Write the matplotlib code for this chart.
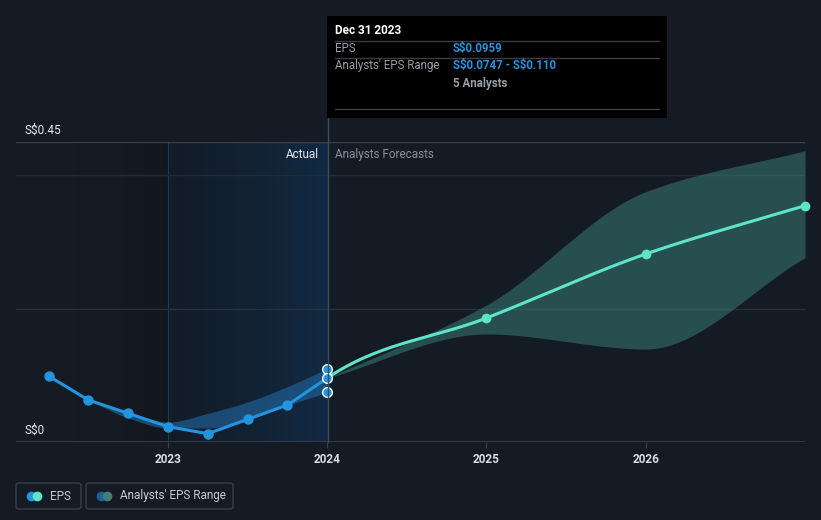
import numpy as np
import matplotlib
matplotlib.use("Agg")
import matplotlib.pyplot as plt
from matplotlib.patches import FancyBboxPatch, Rectangle
from matplotlib.lines import Line2D
from matplotlib.colors import LinearSegmentedColormap

plt.rcParams['font.family'] = ['Roboto', 'DejaVu Sans']

# ---------------- data ----------------
actual_x = [2022.25, 2022.5, 2022.75, 2023.0, 2023.25, 2023.5, 2023.75, 2024.0]
actual_eps = [0.099, 0.063, 0.043, 0.023, 0.0125, 0.034, 0.0555, 0.0959]

past_range_x = [2022.5, 2022.75, 2023.0, 2023.25, 2023.5, 2023.75, 2024.0]
past_range_low = [0.063, 0.036, 0.021, 0.021, 0.034, 0.055, 0.0747]
past_range_high = [0.063, 0.045, 0.030, 0.043, 0.060, 0.083, 0.110]

fc_x = [2024.0, 2025.0, 2026.0, 2027.0]
fc_eps = [0.0959, 0.186, 0.282, 0.3545]
fc_low = [0.0959, 0.162, 0.1395, 0.2765]
fc_high = [0.0959, 0.2055, 0.3755, 0.437]

year_ticks = [2023, 2024, 2025, 2026]
y_labels = ["S$0", "S$0.45"]
tooltip_date = "Dec 31 2023"
tooltip_eps = "S$0.0959"
tooltip_range = "S$0.0747 - S$0.110"
tooltip_analysts = "5 Analysts"

# ---------------- helpers ----------------
def pchip(x, y, xs, m0=None):
    x = np.asarray(x, float); y = np.asarray(y, float)
    h = np.diff(x); d = np.diff(y) / h
    n = len(x); m = np.zeros(n)
    m[0] = d[0] if m0 is None else m0
    m[-1] = d[-1]
    for k in range(1, n - 1):
        if d[k - 1] * d[k] > 0:
            w1 = 2 * h[k] + h[k - 1]; w2 = h[k] + 2 * h[k - 1]
            m[k] = (w1 + w2) / (w1 / d[k - 1] + w2 / d[k])
    out = np.empty_like(xs)
    for i, xv in enumerate(xs):
        k = min(max(np.searchsorted(x, xv) - 1, 0), n - 2)
        t = (xv - x[k]) / h[k]
        h00 = 2*t**3 - 3*t**2 + 1; h10 = t**3 - 2*t**2 + t
        h01 = -2*t**3 + 3*t**2; h11 = t**3 - t**2
        out[i] = h00*y[k] + h10*h[k]*m[k] + h01*y[k+1] + h11*h[k]*m[k+1]
    return out

def esc(s):
    return s.replace('$', r'\$')

W, H = 821, 520
BG = '#151b25'
fig = plt.figure(figsize=(W / 100, H / 100), dpi=100, facecolor=BG)

def fx(px): return px / W
def fy(py): return 1 - py / H

ax_l, ax_r, ax_t, ax_b = 16, 805, 142, 442
ax = fig.add_axes([fx(ax_l), fy(ax_b), (ax_r - ax_l) / W, (ax_b - ax_t) / H])
ax.set_facecolor(BG)
xmin = 2023 - (168 - ax_l) / 159.3
xmax = 2027.0

# shaded past region gradients
grad = np.linspace(0, 1, 256).reshape(1, -1)
cm_dark = LinearSegmentedColormap.from_list('d', [(0.09, 0.11, 0.145, 0.0), (0.07, 0.085, 0.11, 0.6)])
ax.imshow(grad, extent=[xmin, 2023.0, 0, 0.45], aspect='auto', cmap=cm_dark, zorder=0.5)
cm_blue = LinearSegmentedColormap.from_list('b', [(0.06, 0.12, 0.18, 0.35), (0.07, 0.18, 0.29, 0.85)])
ax.imshow(grad, extent=[2023.0, 2024.0, 0, 0.45], aspect='auto', cmap=cm_blue, zorder=0.5)
ax.set_xlim(xmin, xmax)
ax.set_ylim(0, 0.45)
for s in ax.spines.values():
    s.set_visible(False)
ax.axvline(2023.0, color='#1e3a55', lw=0.8, zorder=0.6)

# gridlines
for yv, c in [(0.2, '#2a303a'), (0.4, '#252b35'), (0.45, '#3b414b')]:
    ax.axhline(yv, color=c, lw=1, zorder=1)
ax.axhline(0, color='#3b414b', lw=1.2, zorder=1)

# past analyst range band
xs_p = np.linspace(past_range_x[0], past_range_x[-1], 200)
ax.fill_between(xs_p, pchip(past_range_x, past_range_low, xs_p), pchip(past_range_x, past_range_high, xs_p),
                color='#1f5f94', alpha=0.7, lw=0, zorder=2)

# forecast band
xs_f = np.linspace(fc_x[0], fc_x[-1], 300)
ax.fill_between(xs_f, pchip(fc_x, fc_low, xs_f), pchip(fc_x, fc_high, xs_f),
                color='#3a8079', alpha=0.52, lw=0, zorder=2)

# forecast line (curve continues the slope of the last actual segment)
start_slope = (actual_eps[-1] - actual_eps[-2]) / (actual_x[-1] - actual_x[-2])
ax.plot(xs_f, pchip(fc_x, fc_eps, xs_f, m0=start_slope), color='#5de4c9', lw=2.2, zorder=3,
        solid_capstyle='round')
ax.plot(fc_x[1:], fc_eps[1:], 'o', color='#5de4c9', ms=6, zorder=4, clip_on=False)

# actual line
ax.plot(actual_x, actual_eps, color='#2394df', lw=2.2, zorder=4)
ax.plot(actual_x[:-1], actual_eps[:-1], 'o', color='#2394df', ms=6.5, zorder=5)

# markers at 2024
for v in [past_range_high[-1], actual_eps[-1], past_range_low[-1]]:
    ax.plot([actual_x[-1]], [v], 'o', color='#2394df', mec='white', mew=1.0, ms=7, zorder=6, clip_on=False)

# ticks
ax.set_xticks(year_ticks)
ax.set_xticklabels([str(y) for y in year_ticks], color='#d8dbe0', fontsize=8.5, fontweight='bold')
ax.tick_params(axis='x', length=4, color='#3b414b', pad=4, direction='out')
ax.set_yticks([])

# y labels
fig.text(fx(24), fy(130), esc(y_labels[1]), color='#e8eaed', fontsize=8.5, va='center', ha='left')
fig.text(fx(24), fy(430), esc(y_labels[0]), color='#e8eaed', fontsize=8.5, va='center', ha='left')

# Actual / forecast labels
fig.text(fx(319), fy(154), "Actual", color='#e8eaed', fontsize=8.5, va='center', ha='right')
fig.text(fx(335), fy(154), "Analysts Forecasts", color='#8a8f98', fontsize=8.5, va='center', ha='left')

# vertical line at 2024 from tooltip to axis
fig.add_artist(Line2D([fx(327.5), fx(327.5)], [fy(118), fy(442)], color='#3b4c5e', lw=1, zorder=1))

# tooltip
fig.add_artist(Rectangle((fx(327), fy(118)), (667 - 327) / W, (118 - 16) / H, transform=fig.transFigure,
                         facecolor='#000000', edgecolor='none', zorder=10))
fig.text(fx(335), fy(31), tooltip_date, color='white', fontsize=8.5, fontweight='bold', va='center', zorder=11)
for ly in [41, 58, 109]:
    fig.add_artist(Line2D([fx(335), fx(659)], [fy(ly), fy(ly)], color='#3a3d42', lw=1, zorder=11))
fig.text(fx(335), fy(48.5), "EPS", color='#9a9ea5', fontsize=8.3, va='center', zorder=11)
fig.text(fx(453), fy(48.5), esc(tooltip_eps), color='#2394df', fontsize=8.3, fontweight='bold', va='center', zorder=11)
fig.text(fx(335), fy(66), "Analysts' EPS Range", color='#9a9ea5', fontsize=8.3, va='center', zorder=11)
fig.text(fx(453), fy(66), esc(tooltip_range), color='#2394df', fontsize=8.3, fontweight='bold', va='center', zorder=11)
fig.text(fx(453), fy(83), tooltip_analysts, color='#9a9ea5', fontsize=8.3, fontweight='bold', va='center', zorder=11)

# legend
def legend_box(x0, x1, c1, c2, label, tx):
    fig.add_artist(FancyBboxPatch((fx(x0), fy(509)), (x1 - x0) / W, 26 / H, transform=fig.transFigure,
                                  boxstyle='round,pad=0,rounding_size=0.004', facecolor='none',
                                  edgecolor='#3a404a', lw=1))
    fig.add_artist(Line2D([fx(x0 + 15)], [fy(496)], marker='o', color=c1, ms=7, mew=0, zorder=3))
    fig.add_artist(Line2D([fx(x0 + 21)], [fy(496)], marker='o', color=c2, ms=7, mew=0, zorder=4))
    fig.text(fx(tx), fy(496), label, color='#c8ccd2', fontsize=8.5, va='center', ha='left')

legend_box(16, 81, '#2394df', '#5de4c9', "EPS", 50)
legend_box(86, 233, '#1f5f94', '#3d8079', "Analysts' EPS Range", 120)

fig.savefig('out.png', dpi=100, facecolor=BG)
